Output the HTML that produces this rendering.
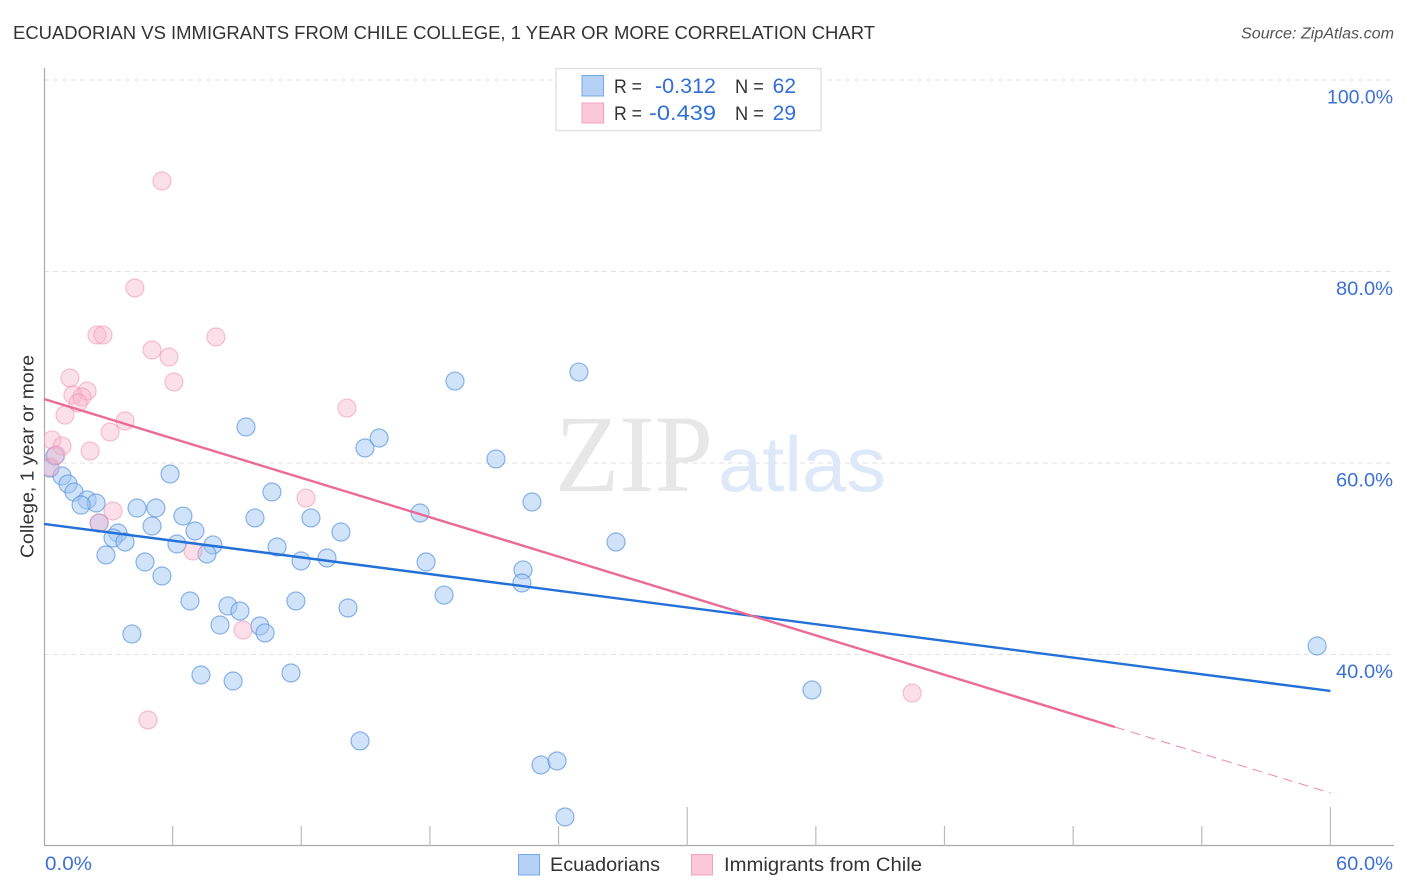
<!DOCTYPE html>
<html lang="en">
<head>
<meta charset="utf-8">
<title>Ecuadorian vs Immigrants from Chile College Correlation Chart</title>
<style>
html,body{margin:0;padding:0;background:#fff;width:1406px;height:892px;overflow:hidden}
svg{display:block}
text{font-family:"Liberation Sans",sans-serif}
</style>
</head>
<body>
<svg id="chart" width="1406" height="892" viewBox="0 0 1406 892" xmlns="http://www.w3.org/2000/svg">
  <defs><clipPath id="plot-clip"><rect x="44" y="60" width="1350" height="786"/></clipPath></defs>
  <rect width="1406" height="892" fill="#fff"/>
  <text x="13" y="39" font-size="18.5" fill="#333" textLength="862" lengthAdjust="spacingAndGlyphs">ECUADORIAN VS IMMIGRANTS FROM CHILE COLLEGE, 1 YEAR OR MORE CORRELATION CHART</text>
  <text x="1394" y="38.500" font-size="15.500" font-style="italic" fill="#555" text-anchor="end" textLength="153" lengthAdjust="spacingAndGlyphs">Source: ZipAtlas.com</text>

  <g id="grid"></g>
  <g>
    <text x="555" y="491" font-size="110" fill="#e7e7e7" textLength="158" lengthAdjust="spacingAndGlyphs" style='font-family:"Liberation Serif",serif'>ZIP</text>
    <text x="718" y="491" font-size="78" fill="#dde9f9" textLength="168" lengthAdjust="spacingAndGlyphs">atlas</text>
  </g>
  <g id="axes"></g>
  <g id="points-ecuadorians" clip-path="url(#plot-clip)"></g>
  <g id="points-chile" clip-path="url(#plot-clip)"></g>
  <g id="trend-lines"></g>
  <g id="tick-labels"></g>

  <text transform="translate(33.500,456.500) rotate(-90)" font-size="18.500" fill="#333" text-anchor="middle" textLength="203" lengthAdjust="spacingAndGlyphs">College, 1 year or more</text>

  <g>
    <rect x="556" y="68.500" width="265" height="62" fill="#fff" stroke="#e2e2e2" stroke-width="1.500"/>
    <rect x="582" y="75.500" width="21.500" height="20.500" fill="#b5d1f6" stroke="#74a8ea" stroke-width="1"/>
    <rect x="582" y="103" width="21.500" height="20" fill="#fcc8d9" stroke="#f3a0bc" stroke-width="1"/>
    <text x="614" y="93" font-size="19" fill="#333" textLength="28" lengthAdjust="spacingAndGlyphs">R =</text>
    <text x="655" y="93" font-size="21" fill="#2f6fd6" textLength="61" lengthAdjust="spacingAndGlyphs">-0.312</text>
    <text x="735" y="93" font-size="19" fill="#333" textLength="29" lengthAdjust="spacingAndGlyphs">N =</text>
    <text x="796" y="93" font-size="21" fill="#2f6fd6" text-anchor="end">62</text>
    <text x="614" y="120" font-size="19" fill="#333" textLength="28" lengthAdjust="spacingAndGlyphs">R =</text>
    <text x="649" y="120" font-size="21" fill="#2f6fd6" textLength="67" lengthAdjust="spacingAndGlyphs">-0.439</text>
    <text x="735" y="120" font-size="19" fill="#333" textLength="29" lengthAdjust="spacingAndGlyphs">N =</text>
    <text x="796" y="120" font-size="21" fill="#2f6fd6" text-anchor="end">29</text>
  </g>

  <g>
    <g>
      <rect x="518.500" y="854.500" width="21" height="20.500" fill="#b5d1f6" stroke="#74a8ea" stroke-width="1"/>
      <text x="550" y="871" font-size="19.500" fill="#333" textLength="110" lengthAdjust="spacingAndGlyphs">Ecuadorians</text>
    </g>
    <g>
      <rect x="691.500" y="854.500" width="21" height="20.500" fill="#fcc8d9" stroke="#f3a0bc" stroke-width="1"/>
      <text x="724" y="871" font-size="19.500" fill="#333" textLength="198" lengthAdjust="spacingAndGlyphs">Immigrants from Chile</text>
    </g>
  </g>
</svg>
<script>
const ecuadorianX = [0.28,0.51,0.84,1.12,1.40,2.01,2.43,1.73,2.57,3.45,3.22,3.78,2.89,4.34,5.22,5.04,6.20,6.48,7.04,7.88,7.60,5.88,4.71,5.50,6.81,8.58,9.14,8.21,10.07,10.31,4.10,7.32,8.82,11.52,9.42,9.84,10.63,10.87,11.99,12.45,13.20,11.75,14.18,13.85,14.97,15.63,17.54,17.82,18.66,19.17,21.08,22.76,22.34,22.29,26.68,24.95,14.74,23.18,23.93,24.30,35.82,59.38];
const ecuadorianY = [59.47,60.73,58.64,57.81,56.97,56.14,55.82,55.61,53.73,52.69,52.17,51.75,50.39,55.30,55.30,53.42,51.54,54.46,52.90,51.44,50.50,58.85,49.66,48.20,45.59,45.07,44.54,43.08,42.98,42.25,42.14,37.86,37.23,38.07,63.76,54.26,56.97,51.23,49.77,54.26,50.08,45.59,44.86,52.79,61.57,62.61,54.78,49.66,46.21,68.56,60.42,55.93,48.83,47.47,51.75,69.50,30.97,28.46,28.88,23.03,36.29,40.89];
const chileX = [5.50,4.24,2.47,2.75,8.02,5.04,5.83,6.06,1.21,2.01,1.35,1.77,1.59,0.98,3.78,3.08,0.37,0.84,2.15,0.28,0.56,12.22,3.22,2.57,6.95,9.28,4.85,14.13,40.49];
const chileY = [89.45,78.28,73.37,73.37,73.16,71.80,71.07,68.46,68.88,67.52,67.10,66.89,66.27,65.01,64.39,63.24,62.41,61.77,61.25,59.58,60.84,56.34,54.99,53.73,50.81,42.56,33.16,65.74,35.98];
const ecuadorianTrendX = [0,60];
const ecuadorianTrendY = [53.63,36.19];
const chileTrendSolidX = [0,49.95];
const chileTrendSolidY = [66.68,32.43];
const chileTrendDashedX = [49.95,60];
const chileTrendDashedY = [32.43,25.54];
const yTickValues = [100,80,60,40];
const yTickLabels = ["100.0%","80.0%","60.0%","40.0%"];
const xTickValues = [0,6,12,18,24,30,36,42,48,54,60];
const xMajorTicks = [30,60];

const SVG_NS = "http://www.w3.org/2000/svg";
const sx = v => 44 + v * 21.44;
const sy = v => 80 + (100 - v) * 9.575;
function make(tag, parent, attrs){
  const el = document.createElementNS(SVG_NS, tag);
  for (const k in attrs) el.setAttribute(k, attrs[k]);
  document.getElementById(parent).appendChild(el);
  return el;
}

yTickValues.forEach((v, i) => {
  const line = make("line", "grid", {x1:44, x2:1394, y1:sy(v), y2:sy(v), stroke:"#e2e2e2", "stroke-width":1, "stroke-dasharray":"5 4"});
  
  
  const labelWidth = yTickLabels[i].length === 6 ? 66 : 57;
  const label = make("text", "tick-labels", {x:1393 - labelWidth, y:sy(v)+23.5, "font-size":19.5, fill:"#3b70d6", textLength:labelWidth, lengthAdjust:"spacingAndGlyphs"});
  label.textContent = yTickLabels[i];
  
  
});

const yAxis = make("line", "axes", {x1:44.5, x2:44.5, y1:68, y2:846, stroke:"#aaa", "stroke-width":1.2});


const xAxis = make("line", "axes", {x1:44, x2:1394, y1:845.5, y2:845.5, stroke:"#aaa", "stroke-width":1.2});



xTickValues.slice(1).forEach(v => {
  const top = xMajorTicks.includes(v) ? 807 : 826;
  const tick = make("line", "axes", {x1:sx(v), x2:sx(v), y1:top, y2:846, stroke:"#bbb", "stroke-width":1.2});
  
  
});

const xMin = make("text", "tick-labels", {x:45, y:870, "font-size":19.5, fill:"#3b70d6", textLength:47, lengthAdjust:"spacingAndGlyphs"});
xMin.textContent = "0.0%";


const xMax = make("text", "tick-labels", {x:1336, y:870, "font-size":19.5, fill:"#3b70d6", textLength:57, lengthAdjust:"spacingAndGlyphs"});
xMax.textContent = "60.0%";



ecuadorianX.forEach((x, i) => {
  const c = make("circle", "points-ecuadorians", {cx:sx(x), cy:sy(ecuadorianY[i]), r:9, fill:"#a4c8f4", "fill-opacity":0.5, stroke:"#4f8fe0", "stroke-opacity":0.65, "stroke-width":1.2});
  
  
});
chileX.forEach((x, i) => {
  const c = make("circle", "points-chile", {cx:sx(x), cy:sy(chileY[i]), r:9, fill:"#f8b4cb", "fill-opacity":0.42, stroke:"#f090b0", "stroke-opacity":0.55, "stroke-width":1.2});
  
  
});

const blueTrend = make("line", "trend-lines", {x1:sx(ecuadorianTrendX[0]), y1:sy(ecuadorianTrendY[0]), x2:sx(ecuadorianTrendX[1]), y2:sy(ecuadorianTrendY[1]), stroke:"#2270d8", "stroke-width":2.4});


const pinkTrend = make("line", "trend-lines", {x1:sx(chileTrendSolidX[0]), y1:sy(chileTrendSolidY[0]), x2:sx(chileTrendSolidX[1]), y2:sy(chileTrendSolidY[1]), stroke:"#ea6a98", "stroke-width":2.4});


const pinkDash = make("line", "trend-lines", {x1:sx(chileTrendDashedX[0]), y1:sy(chileTrendDashedY[0]), x2:sx(chileTrendDashedX[1]), y2:sy(chileTrendDashedY[1]), stroke:"#ea6a98", "stroke-width":1, "stroke-opacity":0.8, "stroke-dasharray":"10 6"});


</script>
</body>
</html>
